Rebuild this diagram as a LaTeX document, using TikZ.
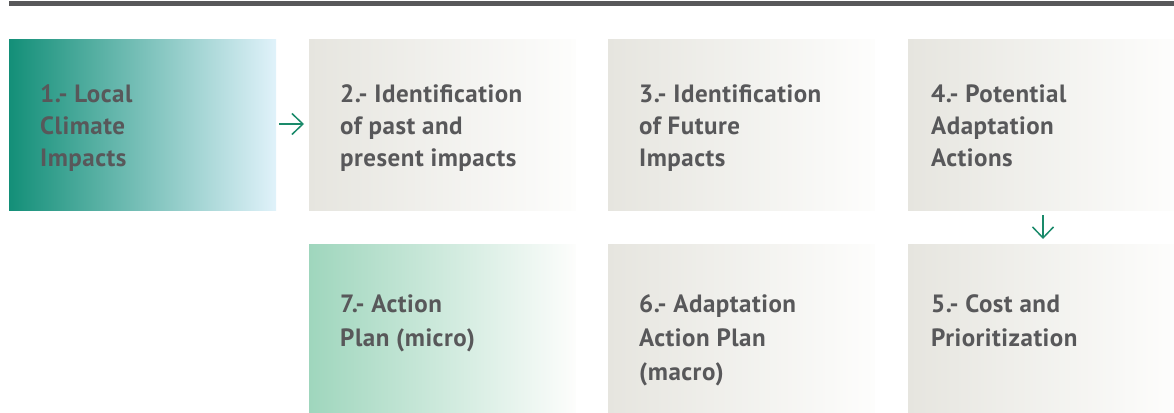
\documentclass[tikz,border=0pt]{standalone}
\usepackage{fontspec}
\setmainfont{PT Sans}[LetterSpace=2]
\usetikzlibrary{arrows.meta}
\definecolor{txt}{HTML}{58585A}
\definecolor{bar}{HTML}{58585A}
\definecolor{teal1}{HTML}{138F78}
\definecolor{ice}{HTML}{E0F2FA}
\definecolor{greyL}{HTML}{E6E5DF}
\definecolor{greyR}{HTML}{FDFDFC}
\definecolor{mint}{HTML}{9FD6BD}
\definecolor{arr}{HTML}{1A8A6A}
\tikzset{
  box/.style={rectangle, inner sep=0pt, outer sep=0pt, minimum width=267pt, minimum height=170pt, anchor=north west},
  boxB/.style={box, minimum height=168pt},
  plain/.style={left color=greyL, right color=greyR},
  lbl/.style={anchor=base west, align=left, inner sep=0pt, text=txt, font=\bfseries\fontsize{25}{32}\selectfont},
  lblB/.style={lbl, font=\bfseries\fontsize{25}{34}\selectfont},
  conn/.style={draw=arr, line width=1.5pt, -{Straight Barb[length=11pt,width=21pt]}}
}
\begin{document}
\begin{tikzpicture}[x=1pt,y=-1pt]
\useasboundingbox (0,0) rectangle (1174,412);
\fill[bar] (9,1) rectangle (1174,6);
% top row
\node[box, left color=teal1, right color=ice] (b1) at (9,40) {};
\node[box, plain] (b2) at (309,40) {};
\node[box, plain] (b3) at (608,40) {};
\node[box, plain] (b4) at (908,40) {};
% bottom row
\node[boxB, left color=mint, right color=greyR] (b7) at (309,244) {};
\node[boxB, plain] (b6) at (608,244) {};
\node[boxB, plain] (b5) at (908,244) {};
% texts (base = baseline of last line)
\node[lbl] (t1) at (40,166) {1.- Local\\Climate\\Impacts};
\node[lbl] (t2) at (340,166) {2.- Identification\\of past and\\present impacts};
\node[lbl] (t3) at (639,166) {3.- Identification\\of Future\\Impacts};
\node[lbl] (t4) at (931,166) {4.- Potential\\Adaptation\\Actions};
\node[lblB] (t7) at (340,346) {7.- Action\\Plan (micro)};
\node[lblB] (t6) at (639,380) {6.- Adaptation\\Action Plan\\(macro)};
\node[lblB] (t5) at (931,346) {5.- Cost and\\Prioritization};
% connectors
\draw[conn, shorten <=3pt, shorten >=5pt] (b1.east |- 0,124) -- (b2.west |- 0,124);
\draw[conn, shorten <=5pt, shorten >=5pt] (b4.south -| 1043,0) -- (b5.north -| 1043,0);
\end{tikzpicture}
\end{document}
